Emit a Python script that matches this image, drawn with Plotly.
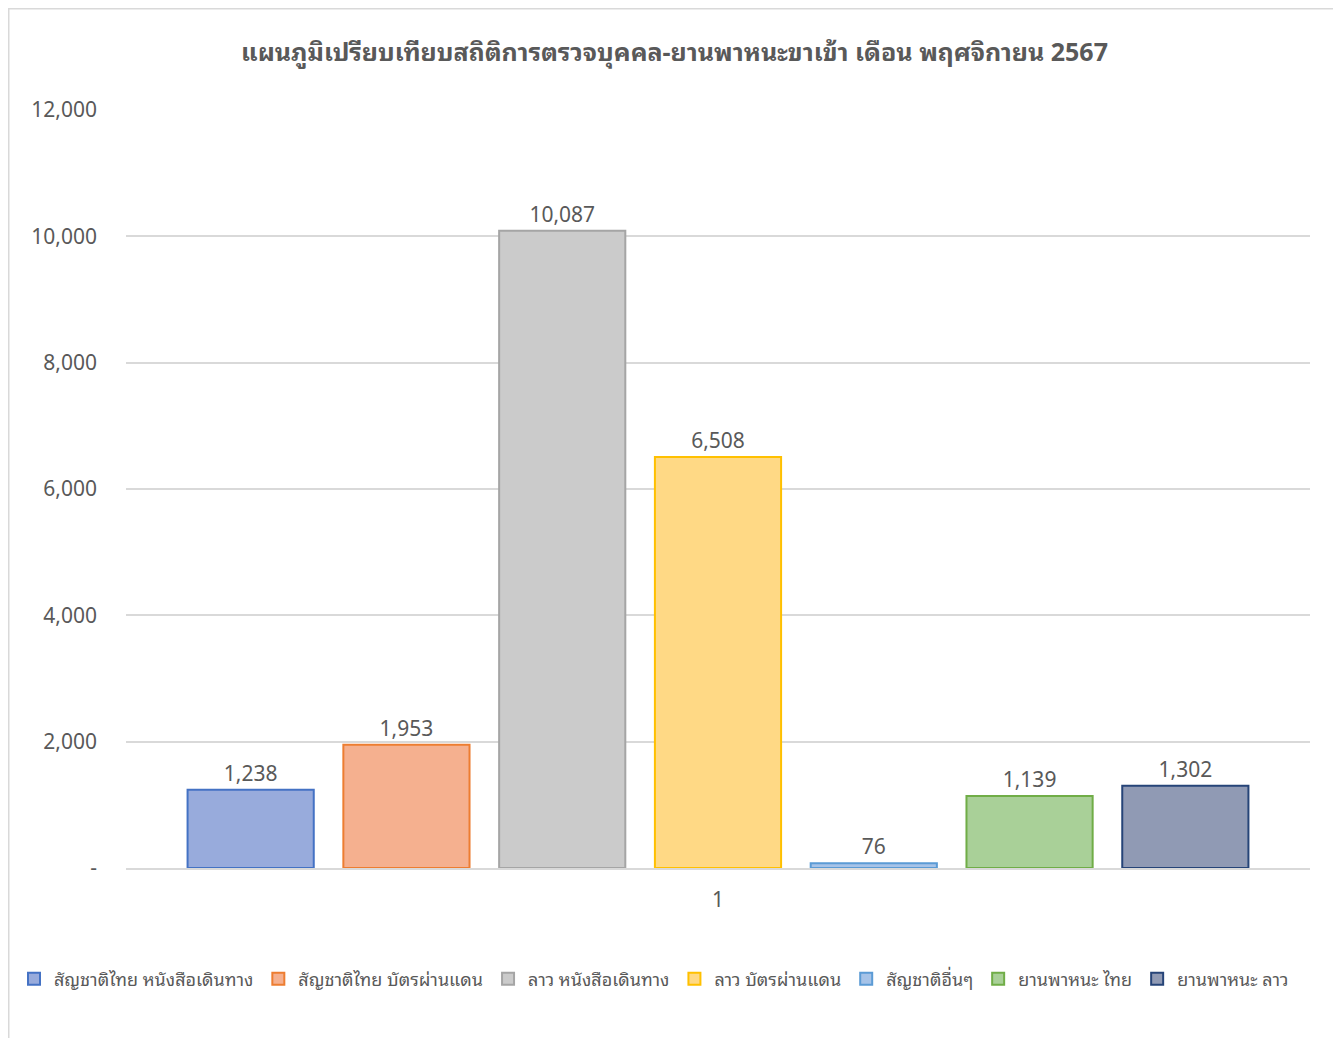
import plotly.graph_objects as go

categories = ["1"]
series_names = [
    "สัญชาติไทย หนังสือเดินทาง",
    "สัญชาติไทย บัตรผ่านแดน",
    "ลาว หนังสือเดินทาง",
    "ลาว บัตรผ่านแดน",
    "สัญชาติอื่นๆ",
    "ยานพาหนะ ไทย",
    "ยานพาหนะ ลาว",
]
series_values = [1238, 1953, 10087, 6508, 76, 1139, 1302]
fill_colors = ["#98ABDC", "#F5B08F", "#CBCBCB", "#FFD985", "#A6C3E8", "#A9D098", "#909AB4"]
line_colors = ["#4472C4", "#ED7D31", "#A5A5A5", "#FFC000", "#5B9BD5", "#70AD47", "#264478"]
tick_vals = [0, 2000, 4000, 6000, 8000, 10000, 12000]
tick_text = ["-", "2,000", "4,000", "6,000", "8,000", "10,000", "12,000"]
title_text = "แผนภูมิเปรียบเทียบสถิติการตรวจบุคคล-ยานพาหนะขาเข้า เดือน พฤศจิกายน 2567"

FONT = "'Noto Sans', 'Noto Sans Thai Looped', 'Noto Sans Thai', sans-serif"
GREY = "#595959"

fig = go.Figure()
for name, val, fc, lc in zip(series_names, series_values, fill_colors, line_colors):
    fig.add_trace(go.Bar(
        x=categories, y=[val], name=name,
        marker=dict(color=fc, line=dict(color=lc, width=2)),
        texttemplate="%{y:,}", textposition="outside",
        textfont=dict(family=FONT, size=21, color=GREY),
        cliponaxis=False,
    ))

# page body has an 8px margin, so figure coords = screen coords - 8
OFF = 8
W, H = 1333, 1030
L, R, T, B = 118, 31, 102, 170
pw, ph = W - L - R, H - T - B

def px_x(p):
    return (p - OFF - L) / pw

def px_y(p):
    return (H - B - (p - OFF)) / ph

fig.update_layout(
    width=W, height=H,
    margin=dict(l=L, r=R, t=T, b=B, autoexpand=False),
    paper_bgcolor="white", plot_bgcolor="white",
    barmode="group", bargap=0.079, bargroupgap=0.19,
    title=dict(text=title_text, x=0.5, xanchor="center", y=1 - (52 - OFF) / H, yanchor="middle",
               font=dict(family=FONT, size=25, color=GREY, weight="bold")),
    font=dict(family=FONT, color=GREY),
    legend=dict(orientation="h", x=px_x(14), xanchor="left", y=px_y(979), yanchor="middle",
                font=dict(family=FONT, size=18, color=GREY), itemwidth=30,
                traceorder="normal"),
    shapes=[dict(type="rect", xref="paper", yref="paper",
                 x0=px_x(8.75), x1=px_x(1338), y0=px_y(1060), y1=px_y(8.75),
                 line=dict(color="#D9D9D9", width=1.5), fillcolor="rgba(0,0,0,0)", layer="below")],
)
fig.update_yaxes(range=[0, 12000], tickvals=tick_vals, ticktext=tick_text,
                 showgrid=True, gridcolor="#D9D9D9", gridwidth=1.5, zeroline=False,
                 showline=False, ticks="", ticklabelstandoff=28, automargin=False,
                 tickfont=dict(family=FONT, size=21, color=GREY))
fig.update_xaxes(showline=True, linecolor="#D9D9D9", linewidth=1.5, ticks="",
                 ticklabelstandoff=12, automargin=False,
                 tickfont=dict(family=FONT, size=21, color=GREY))

fig.write_html("out.html")
